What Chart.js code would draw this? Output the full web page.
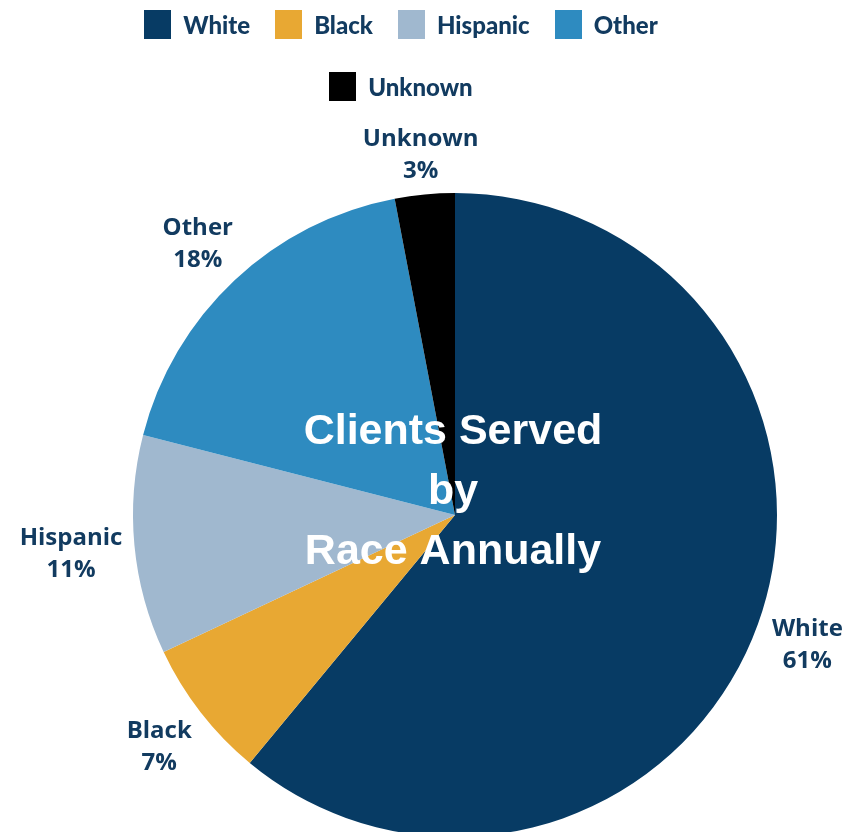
<!DOCTYPE html>
<html>
<head>
<meta charset="utf-8">
<script src="https://cdn.jsdelivr.net/npm/chart.js@4"></script>
<style>
  html, body { margin: 0; padding: 0; background: #ffffff; overflow: hidden; }
  #wrap { position: relative; width: 852px; height: 852px; }
  #chart { position: absolute; left: 0; top: 0; }
  #legend {
    position: absolute; left: 121px; top: 10px; width: 560px;
    display: flex; flex-wrap: wrap; justify-content: center;
    column-gap: 25px; row-gap: 33px;
    font-family: "Lato", sans-serif; font-weight: 900; font-size: 24px;
    color: #123b60;
  }
  .item { display: flex; align-items: center; height: 29px; }
  .box { width: 27px; height: 29px; margin-right: 12px; }
</style>
</head>
<body>
<div id="wrap">
  <canvas id="chart" width="852" height="852"></canvas>
  <div id="legend"></div>
</div>
<script>
const categories = ['White', 'Black', 'Hispanic', 'Other', 'Unknown'];
const values = [61, 7, 11, 18, 3];
const sliceColors = ['#073b64', '#e8a833', '#a0b8cf', '#2e8bc0', '#000000'];
const centerTitle = ['Clients Served', 'by', 'Race Annually'];

const textColor = '#123b60';

// HTML legend built from the data arrays
const legend = document.getElementById('legend');
categories.forEach((c, i) => {
  const it = document.createElement('div');
  it.className = 'item';
  const b = document.createElement('div');
  b.className = 'box';
  b.style.background = sliceColors[i];
  const t = document.createElement('span');
  t.textContent = c;
  it.appendChild(b); it.appendChild(t);
  legend.appendChild(it);
});

const outsideLabels = {
  id: 'outsideLabels',
  afterDatasetsDraw(chart) {
    const ctx = chart.ctx;
    const meta = chart.getDatasetMeta(0);
    const total = values.reduce((a, b) => a + b, 0);
    ctx.save();
    ctx.font = '700 24px "Open Sans", sans-serif';
    ctx.fillStyle = textColor;
    ctx.textAlign = 'center';
    ctx.textBaseline = 'middle';
    meta.data.forEach((arc, i) => {
      const p = arc.getProps(['x', 'y', 'startAngle', 'endAngle', 'outerRadius'], true);
      const mid = (p.startAngle + p.endAngle) / 2;
      const cx = Math.cos(mid), sy = Math.sin(mid);
      const l1 = categories[i];
      const l2 = Math.round(values[i] / total * 100) + '%';
      const w = Math.max(ctx.measureText(l1).width, ctx.measureText(l2).width) / 2;
      const h = 27;
      const off = p.outerRadius + 10 + w * Math.abs(cx) + h * Math.abs(sy);
      const x = p.x + cx * off;
      const y = p.y + sy * off + 3;
      ctx.fillText(l1, x, y - 16);
      ctx.fillText(l2, x, y + 16);
    });
    ctx.restore();
  }
};

const centerText = {
  id: 'centerText',
  afterDatasetsDraw(chart) {
    const ctx = chart.ctx;
    const arc = chart.getDatasetMeta(0).data[0];
    ctx.save();
    ctx.font = '700 43px "Liberation Sans", Arial, sans-serif';
    ctx.fillStyle = '#ffffff';
    ctx.textAlign = 'center';
    ctx.textBaseline = 'middle';
    const n = centerTitle.length;
    centerTitle.forEach((line, k) => {
      ctx.fillText(line, arc.x - 2, arc.y - 23 + (k - (n - 1) / 2) * 60);
    });
    ctx.restore();
  }
};

new Chart(document.getElementById('chart'), {
  type: 'pie',
  data: {
    labels: categories,
    datasets: [{
      data: values,
      backgroundColor: sliceColors,
      borderWidth: 0,
      hoverOffset: 0
    }]
  },
  options: {
    responsive: false,
    animation: false,
    layout: { padding: { left: 133, right: 75, top: 193, bottom: 15 } },
    plugins: {
      legend: { display: false },
      tooltip: { enabled: false }
    }
  },
  plugins: [outsideLabels, centerText]
});
</script>
</body>
</html>
